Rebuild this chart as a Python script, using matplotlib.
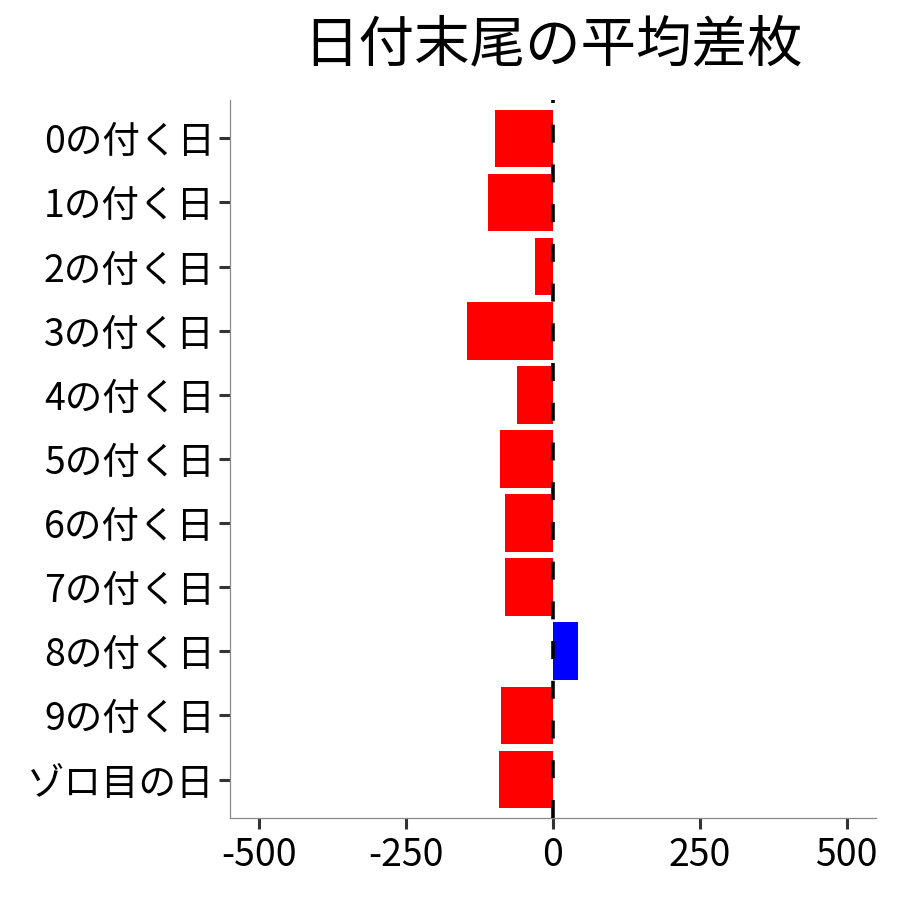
import numpy as np
import matplotlib
matplotlib.use("Agg")
import matplotlib.pyplot as plt

plt.rcParams['font.family'] = ['Noto Sans CJK JP', 'DejaVu Sans']

# data
labels = ["0の付く日", "1の付く日", "2の付く日", "3の付く日", "4の付く日", "5の付く日",
          "6の付く日", "7の付く日", "8の付く日", "9の付く日", "ゾロ目の日"]
values = [-99, -111, -31, -147, -62, -91, -82, -82, 42, -89, -92]
xticks = [-500, -250, 0, 250, 500]

colors = ["blue" if v > 0 else "red" for v in values]
ypos = np.arange(len(labels))[::-1]

fig = plt.figure(figsize=(9, 9), dpi=100)
ax = fig.add_axes([0.2556, 0.0911, 0.7178, 0.7979])

ax.barh(ypos, values, height=0.9, color=colors, zorder=2)
ax.axvline(0, color="black", lw=2.6, ls=(0, (5.0, 6.0)), zorder=3)

ax.set_xlim(-550, 550)
ax.set_ylim(-0.6, len(labels) - 1 + 0.6)
ax.set_yticks(ypos)
ax.set_yticklabels(labels)
ax.set_xticks(xticks)
ax.set_xticklabels([str(t) for t in xticks])

for s in ["top", "right"]:
    ax.spines[s].set_visible(False)
for s in ["left", "bottom"]:
    ax.spines[s].set_color("#888888")
    ax.spines[s].set_linewidth(0.9)

ax.tick_params(axis="both", length=8, width=2.2, color="#333333",
               labelsize=27, labelcolor="black", pad=3)
ax.tick_params(axis="x", pad=5)

ax.set_title("日付末尾の平均差枚", fontsize=40, pad=28)

fig.savefig("out.png", dpi=100, facecolor="white")
